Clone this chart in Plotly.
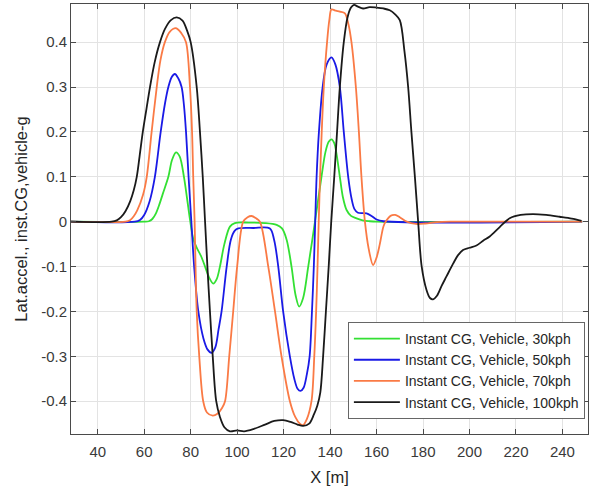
import plotly.graph_objects as go

# ---- data ----
x_30 = [28.5, 60, 62, 63.5, 65, 66.5, 68, 70.4, 72, 73.7, 75.3, 77.1, 78.5, 79.7, 81.1, 82.6, 84.5, 86.2, 88,
        89.7, 91.2, 92.6, 94.5, 96.9, 99, 105, 112, 117, 119.3, 121.3, 123.4, 125.2, 126.7, 128.4, 130.6, 133.5,
        136.3, 138, 139.4, 140.6, 141.8, 142.8, 144.2, 145.5, 147.1, 149, 151.4, 154, 157, 160, 248.5]
y_30 = [0, 0, 0.001, 0.006, 0.018, 0.038, 0.062, 0.1, 0.138, 0.1545, 0.145, 0.1, 0.05, 0.005, -0.038, -0.058,
        -0.077, -0.1, -0.125, -0.138, -0.128, -0.1, -0.05, -0.011, -0.003, -0.002, -0.003, -0.007, -0.015, -0.04,
        -0.1, -0.165, -0.189, -0.17, -0.1, 0.0, 0.1, 0.155, 0.178, 0.1835, 0.175, 0.15, 0.1, 0.055, 0.026, 0.013,
        0.0075, 0.003, 0.001, 0, 0]

x_50 = [28.5, 56, 58.2, 60, 62.3, 64.6, 67.1, 69, 70.4, 71.8, 73.2, 74.6, 76.1, 77.1, 78, 79.1, 80.3, 81.5, 83.3,
        85.5, 87.3, 89, 90.6, 92, 93.3, 95.5, 97.3, 99, 100.5, 107, 114.1, 115.9, 117.7, 119.8, 122.7, 124.6, 126,
        127.3, 128.6, 130, 131.2, 132.2, 133, 133.6, 134.2, 135.2, 136.8, 138.5, 140.6, 142.3, 144.2, 145.9, 147.8,
        149.3, 150.5, 152, 155.7, 158, 160, 163, 248.5]
y_50 = [0, 0, 0.004, 0.015, 0.045, 0.1, 0.2, 0.265, 0.3, 0.322, 0.329, 0.32, 0.3, 0.26, 0.2, 0.1, 0, -0.1, -0.2,
        -0.26, -0.285, -0.292, -0.28, -0.24, -0.2, -0.1, -0.04, -0.02, -0.015, -0.014, -0.015, -0.04, -0.1, -0.2,
        -0.3, -0.35, -0.372, -0.377, -0.37, -0.34, -0.3, -0.2, -0.1, 0, 0.1, 0.2, 0.3, 0.35, 0.366, 0.35, 0.3, 0.2,
        0.1, 0.05, 0.028, 0.02, 0.0187, 0.012, 0.005, 0.001, 0]

x_70 = [28.5, 52, 53.9, 55.5, 57, 59.5, 61.1, 63.2, 65.4, 67, 68.9, 71, 73.7, 76, 78, 79.7, 80.6, 81.1, 81.7, 82.1,
        82.6, 83.7, 85.4, 87, 89.5, 91.5, 93.5, 94.8, 96.6, 98.3, 100, 102.6, 104.5, 106.2, 108, 109.8, 113.4, 116.3,
        119.1, 122.7, 125, 127, 128.4, 130, 132, 133.2, 134, 134.6, 135.1, 135.7, 136.4, 137.3, 138.7, 139.7, 140.6,
        142.5, 144.2, 146.4, 147.9, 149.2, 151.1, 152.4, 153.5, 155, 156.6, 158.5, 160, 161.4, 163, 164.3, 166, 168,
        170, 173, 177, 181, 186, 192, 248.5]
y_70 = [0, 0, 0.003, 0.012, 0.025, 0.06, 0.1, 0.2, 0.3, 0.36, 0.4, 0.423, 0.431, 0.42, 0.4, 0.3, 0.2, 0.1, 0, -0.1,
        -0.2, -0.3, -0.4, -0.425, -0.432, -0.428, -0.415, -0.4, -0.3, -0.2, -0.1, 0, 0.01, 0.0127, 0.008, 0, -0.1,
        -0.2, -0.3, -0.4, -0.435, -0.45, -0.453, -0.44, -0.4, -0.3, -0.2, -0.1, 0, 0.1, 0.2, 0.3, 0.4, 0.45, 0.473,
        0.47, 0.468, 0.464, 0.44, 0.4, 0.3, 0.2, 0.1, 0, -0.06, -0.0965, -0.08, -0.05, -0.01, 0.003, 0.013, 0.015,
        0.01, 0.0, -0.005, -0.004, -0.001, 0, 0]

x_100 = [28.5, 46, 48.2, 50, 52, 54, 55.5, 56.8, 58, 59.4, 61, 62.5, 64.5, 66.8, 69, 71.5, 74, 76.5, 78.5, 80, 82.6,
         84, 85.2, 86.2, 87.2, 88.3, 89.5, 91, 92.6, 94.5, 96.9, 100, 103, 107, 112, 116, 119.8, 123, 126, 128.4, 131,
         133, 134.5, 135.8, 137, 138.2, 139.4, 140.5, 141.8, 143, 144.2, 145.9, 147.5, 149, 150.3, 152, 154.2, 157,
         160, 163, 165.7, 168, 170, 172, 173.6, 175, 176.5, 177.9, 179.4, 181.5, 183, 184.3, 186, 188, 190.1, 193,
         195, 197.2, 200, 203, 206, 208.7, 213, 217.3, 222, 227.3, 233, 238.8, 244, 248.2]
y_100 = [0, 0, 0.003, 0.01, 0.024, 0.046, 0.07, 0.1, 0.145, 0.2, 0.252, 0.3, 0.355, 0.4, 0.43, 0.449, 0.455, 0.448,
         0.425, 0.4, 0.3, 0.2, 0.1, 0, -0.1, -0.2, -0.3, -0.4, -0.435, -0.458, -0.467, -0.465, -0.467, -0.462,
         -0.452, -0.444, -0.442, -0.446, -0.452, -0.455, -0.45, -0.43, -0.41, -0.38, -0.3, -0.2, -0.1, 0, 0.1, 0.2,
         0.3, 0.4, 0.455, 0.477, 0.483, 0.479, 0.475, 0.478, 0.477, 0.475, 0.471, 0.462, 0.449, 0.38, 0.3, 0.2, 0.1,
         0, -0.099, -0.152, -0.17, -0.173, -0.165, -0.143, -0.122, -0.093, -0.075, -0.063, -0.058, -0.053, -0.042,
         -0.033, -0.012, 0.0076, 0.015, 0.017, 0.015, 0.011, 0.007, 0.002]

series_names = ["Instant CG, Vehicle, 30kph", "Instant CG, Vehicle, 50kph",
                "Instant CG, Vehicle, 70kph", "Instant CG, Vehicle, 100kph"]
series_colors = ["#33e033", "#1a1ae6", "#fa7a45", "#1a1a1a"]

x_ticks = [40, 60, 80, 100, 120, 140, 160, 180, 200, 220, 240]
y_ticks = [-0.4, -0.3, -0.2, -0.1, 0, 0.1, 0.2, 0.3, 0.4]
y_ticktext = ["-0.4", "-0.3", "-0.2", "-0.1", "0", "0.1", "0.2", "0.3", "0.4"]

FONT = "Arial, 'Liberation Sans', Helvetica, sans-serif"

fig = go.Figure()
for xs, ys, name, col in zip([x_30, x_50, x_70, x_100], [y_30, y_50, y_70, y_100],
                             series_names, series_colors):
    fig.add_trace(go.Scatter(x=xs, y=ys, mode="lines", name=name,
                             line=dict(color=col, width=1.8, shape="spline", smoothing=0.9)))

axis_common = dict(showgrid=True, gridcolor="#e3e3e3", gridwidth=1, zeroline=False,
                   showline=True, linecolor="#4a4a4a", linewidth=1, mirror="ticks",
                   ticks="inside", ticklen=5, tickcolor="#4a4a4a",
                   tickfont=dict(family=FONT, size=15, color="#3a3a3a"))

fig.update_layout(
    width=593, height=492,
    margin=dict(l=71, r=5, t=4, b=58),
    paper_bgcolor="white", plot_bgcolor="white",
    font=dict(family=FONT, color="#262626"),
    xaxis=dict(range=[28.5, 251], tickvals=x_ticks, ticklabelstandoff=4,
               title=dict(text="X [m]", font=dict(family=FONT, size=16.5, color="#262626"), standoff=12),
               **axis_common),
    yaxis=dict(range=[-0.473, 0.485], tickvals=y_ticks, ticktext=y_ticktext,
               title=dict(text="Lat.accel., inst.CG,vehicle-g", font=dict(family=FONT, size=16.5, color="#262626"),
                          standoff=9),
               **axis_common),
    legend=dict(x=0.994, y=0.035, xanchor="right", yanchor="bottom",
                bgcolor="white", bordercolor="#666666", borderwidth=1,
                font=dict(family=FONT, size=14, color="#262626"),
                tracegroupgap=0, itemwidth=46),
    showlegend=True,
)

fig.write_html("out.html")
